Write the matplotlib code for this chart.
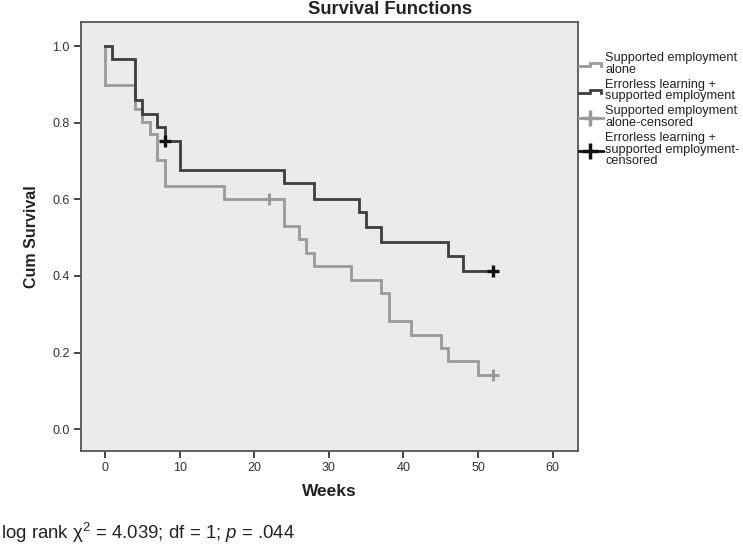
import matplotlib
matplotlib.use('Agg')
import matplotlib.pyplot as plt
from matplotlib.lines import Line2D
from matplotlib.legend_handler import HandlerBase

plt.rcParams['font.family'] = ['Liberation Sans', 'DejaVu Sans']
plt.rcParams['mathtext.fontset'] = 'custom'
plt.rcParams['mathtext.rm'] = 'Liberation Sans'
plt.rcParams['mathtext.it'] = 'Liberation Sans:italic'

# ---- data ----
weeks_alone = [0, 0, 4, 5, 6, 7, 8, 16, 24, 26, 27, 28, 33, 37, 38, 41, 45, 46, 50]
surv_alone = [1.0, 0.90, 0.836, 0.802, 0.770, 0.702, 0.636, 0.602, 0.530, 0.497,
              0.460, 0.425, 0.390, 0.355, 0.283, 0.247, 0.213, 0.177, 0.142]
cens_alone_weeks = [22, 52]
cens_alone_surv = [0.602, 0.142]

weeks_el = [0, 1, 4, 5, 7, 8, 10, 24, 28, 34, 35, 37, 46, 48]
surv_el = [1.0, 0.966, 0.860, 0.824, 0.790, 0.753, 0.678, 0.643, 0.601, 0.567,
           0.528, 0.490, 0.451, 0.414]
cens_el_weeks = [8, 52]
cens_el_surv = [0.753, 0.414]

end_week = 52
x_ticks = [0, 10, 20, 30, 40, 50, 60]
y_ticks = [0.0, 0.2, 0.4, 0.6, 0.8, 1.0]
legend_labels = ['Supported employment\nalone',
                 'Errorless learning +\nsupported employment',
                 'Supported employment\nalone-censored',
                 'Errorless learning +\nsupported employment-\ncensored']

GRAY = '#9a9a9a'
DARK = '#3e3e3e'
BLACK = '#111111'

W, H = 743, 546
fig = plt.figure(figsize=(W / 100, H / 100), dpi=100)
ax = fig.add_axes([80.7 / W, 1 - 451 / H, (578 - 80.7) / W, (451 - 22) / H])
ax.set_facecolor('#ebebeb')

ax.step(weeks_alone + [end_week], surv_alone + [surv_alone[-1]], where='post',
        color=GRAY, lw=2.0, solid_joinstyle='miter')
ax.step(weeks_el + [end_week], surv_el + [surv_el[-1]], where='post',
        color=DARK, lw=2.0, solid_joinstyle='miter')
ax.plot(cens_alone_weeks, cens_alone_surv, ls='none', marker='+', ms=9, mew=2.2, color=GRAY)
ax.plot(cens_el_weeks, cens_el_surv, ls='none', marker='+', ms=9, mew=2.4, color=BLACK)

ax.set_xlim(-3.26, 63.4)
ax.set_ylim(-0.0575, 1.064)
ax.set_xticks(x_ticks)
ax.set_yticks(y_ticks)
ax.set_yticklabels([f'{v:.1f}' for v in y_ticks])
ax.tick_params(direction='out', length=5, width=1.4, color='#444444',
               labelsize=9, labelcolor='#333333', pad=3)
for sp in ax.spines.values():
    sp.set_linewidth(1.3)
    sp.set_color('#555555')

fig.text(329 / W, 1 - 492 / H, 'Weeks', ha='center', va='center',
         fontsize=12.5, fontweight='bold', color='#222222')
fig.text(32 / W, 1 - 237 / H, 'Cum Survival', ha='center', va='center',
         rotation=90, fontsize=11.5, fontweight='bold', color='#222222')
fig.text(390 / W, 1 - 10 / H, 'Survival Functions', ha='center', va='center',
         fontsize=13.2, fontweight='bold', color='#222222')
fig.text(1 / W, 1 - 533 / H, r'log rank χ$^2$ = 4.039; df = 1; $p$ = .044',
         ha='left', va='center', fontsize=13.4, color='#222222')


class StepHandler(HandlerBase):
    def create_artists(self, legend, orig_handle, xdescent, ydescent, width,
                       height, fontsize, trans):
        x0, y0 = -xdescent, -ydescent
        lo, hi = y0 + 0.2 * height, y0 + 0.55 * height
        xs = [x0, x0 + 0.45 * width, x0 + 0.45 * width, x0 + 0.92 * width, x0 + 0.92 * width]
        ys = [lo, lo, hi, hi, lo]
        ln = Line2D(xs, ys, color=orig_handle.get_color(), lw=orig_handle.get_linewidth(),
                    solid_joinstyle='miter', transform=trans)
        return [ln]


class CensHandler(HandlerBase):
    def create_artists(self, legend, orig_handle, xdescent, ydescent, width,
                       height, fontsize, trans):
        x0, y0 = -xdescent, -ydescent
        yc = y0 + 0.4 * height
        ln = Line2D([x0, x0 + width], [yc, yc], color=orig_handle.get_color(),
                    lw=orig_handle.get_linewidth(), transform=trans)
        mk = Line2D([x0 + 0.45 * width], [yc], color=orig_handle.get_color(), ls='none',
                    marker='+', ms=orig_handle.get_markersize(),
                    mew=orig_handle.get_markeredgewidth(), transform=trans)
        return [ln, mk]


h1 = Line2D([], [], color=GRAY, lw=2.0)
h2 = Line2D([], [], color=DARK, lw=2.0)
h3 = Line2D([], [], color=GRAY, lw=2.0, marker='+', ms=12, mew=2.5)
h4 = Line2D([], [], color=BLACK, lw=2.0, marker='+', ms=12, mew=2.5)
leg = fig.legend([h1, h2, h3, h4], legend_labels, loc='upper left',
                 bbox_to_anchor=(579 / W, 1 - 52 / H), frameon=False, fontsize=9.2,
                 handlelength=1.85, handletextpad=0.2, labelspacing=0.25,
                 borderpad=0, borderaxespad=0,
                 handler_map={h1: StepHandler(), h2: StepHandler(),
                              h3: CensHandler(), h4: CensHandler()})
for t in leg.get_texts():
    t.set_linespacing(0.95)
    t.set_color('#222222')

fig.savefig('out.png', dpi=100)
